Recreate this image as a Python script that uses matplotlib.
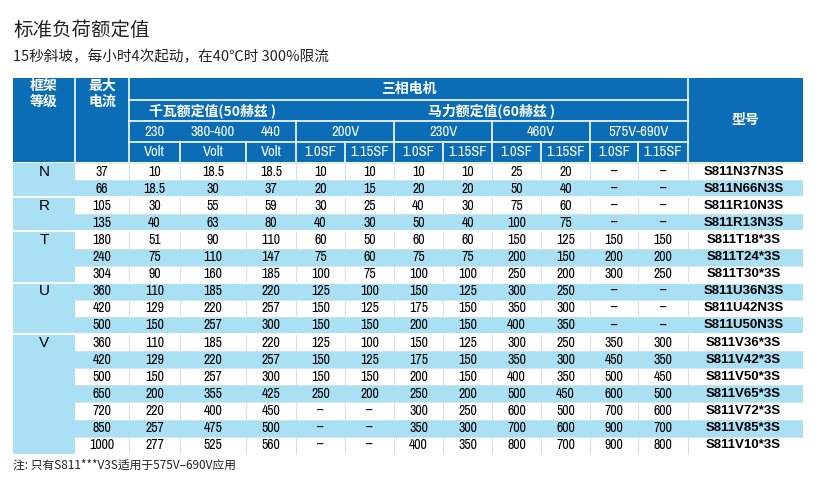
import matplotlib
matplotlib.use("Agg")
import matplotlib.pyplot as plt
from matplotlib.patches import Rectangle
from matplotlib import font_manager as fm

# ---------------- data ----------------
frames = ["N", "R", "T", "U", "V"]
frame_rows = [2, 2, 3, 3, 7]
max_current = ["37", "66", "105", "135", "180", "240", "304", "360", "420", "500",
               "360", "420", "500", "650", "720", "850", "1000"]
kw_230 = ["10", "18.5", "30", "40", "51", "75", "90", "110", "129", "150",
          "110", "129", "150", "200", "220", "257", "277"]
kw_380 = ["18.5", "30", "55", "63", "90", "110", "160", "185", "220", "257",
          "185", "220", "257", "355", "400", "475", "525"]
kw_440 = ["18.5", "37", "59", "80", "110", "147", "185", "220", "257", "300",
          "220", "257", "300", "425", "450", "500", "560"]
hp200_10 = ["10", "20", "30", "40", "60", "75", "100", "125", "150", "150",
            "125", "150", "150", "250", "–", "–", "–"]
hp200_115 = ["10", "15", "25", "30", "50", "60", "75", "100", "125", "150",
             "100", "125", "150", "200", "–", "–", "–"]
hp230_10 = ["10", "20", "40", "50", "60", "75", "100", "150", "175", "200",
            "150", "175", "200", "250", "300", "350", "400"]
hp230_115 = ["10", "20", "30", "40", "60", "75", "100", "125", "150", "150",
             "125", "150", "150", "200", "250", "300", "350"]
hp460_10 = ["25", "50", "75", "100", "150", "200", "250", "300", "350", "400",
            "300", "350", "400", "500", "600", "700", "800"]
hp460_115 = ["20", "40", "60", "75", "125", "150", "200", "250", "300", "350",
             "250", "300", "350", "450", "500", "600", "700"]
hp575_10 = ["–", "–", "–", "–", "150", "200", "300", "–", "–", "–",
            "350", "450", "500", "600", "700", "900", "900"]
hp575_115 = ["–", "–", "–", "–", "150", "200", "250", "–", "–", "–",
             "300", "350", "450", "500", "600", "700", "800"]
models = ["S811N37N3S", "S811N66N3S", "S811R10N3S", "S811R13N3S", "S811T18*3S",
          "S811T24*3S", "S811T30*3S", "S811U36N3S", "S811U42N3S", "S811U50N3S",
          "S811V36*3S", "S811V42*3S", "S811V50*3S", "S811V65*3S", "S811V72*3S",
          "S811V85*3S", "S811V10*3S"]

title = "标准负荷额定值"
subtitle = "15秒斜坡，每小时4次起动，在40℃时 300%限流"
note = "注: 只有S811***V3S适用于575V–690V应用"

# ---------------- fonts ----------------
names = sorted({f.name for f in fm.fontManager.ttflist})
cjk_cands = [n for n in names if "CJK" in n and "SC" in n] + [n for n in names if "CJK" in n]
CJK = cjk_cands[0] if cjk_cands else "DejaVu Sans"
narrow_cands = [n for n in names if "Narrow" in n or "Condensed" in n]
NARROWF = "Liberation Sans Narrow" if "Liberation Sans Narrow" in names else (
    narrow_cands[0] if narrow_cands else "DejaVu Sans")
NARROW = [NARROWF, CJK]
SANS = ["Liberation Sans", CJK]
CJKL = [CJK, "DejaVu Sans"]

DARK = "#0a6db5"
LIGHT = "#a9e0f4"
SEP = "#cfe3ee"

fig = plt.figure(figsize=(8.18, 4.88), dpi=100)
ax = fig.add_axes([0, 0, 1, 1])
ax.set_xlim(0, 818)
ax.set_ylim(488, 0)
ax.axis("off")

def rect(x0, y0, x1, y1, fc):
    ax.add_patch(Rectangle((x0, y0), x1 - x0, y1 - y0, facecolor=fc, edgecolor="none"))

def txt(x, y, s, size=10.5, color="black", weight="normal", family=NARROW, ha="center"):
    ax.text(x, y, s, fontsize=size, color=color, weight=weight, family=family,
            ha=ha, va="center")

ax.text(13, 30, title, fontsize=14, family=CJKL, va="center", ha="left", color="#222")
ax.text(13, 57, subtitle, fontsize=10.5, family=CJKL, va="center", ha="left", color="#222")

cols = [13, 75, 129, 180, 246, 296, 345, 394, 443, 492, 541, 590, 638, 688, 803]
hy = [78, 100, 121, 142, 162]
rect(cols[0], hy[0], cols[-1], hy[-1], DARK)
W = "white"
lw = 1.2
for x in cols[1:3]:
    ax.plot([x, x], [hy[0], hy[-1]], color=W, lw=lw)
ax.plot([cols[-2], cols[-2]], [hy[0], hy[-1]], color=W, lw=lw)
for y in hy[1:4]:
    ax.plot([cols[2], cols[-2]], [y, y], color=W, lw=lw)
ax.plot([cols[5], cols[5]], [hy[2], hy[-1]], color=W, lw=lw)
for x in cols[3:5] + cols[6:13]:
    ax.plot([x, x], [hy[3] if x not in (cols[7], cols[9], cols[11]) else hy[3], hy[-1]],
            color=W, lw=lw)
for x in [cols[7], cols[9], cols[11]]:
    ax.plot([x, x], [hy[2], hy[3]], color=W, lw=lw)

hb = dict(color=W, weight="bold", family=CJKL, size=10)
txt((cols[0] + cols[1]) / 2, 94, "框架\n等级", **hb)
txt((cols[1] + cols[2]) / 2, 94, "最大\n电流", **hb)
txt((cols[2] + cols[-2]) / 2, 89, "三相电机", **hb)
txt((cols[2] + cols[5]) / 2, 111, "千瓦额定值(50赫兹 )", **hb)
txt((cols[5] + cols[-2]) / 2, 111, "马力额定值(60赫兹 )", **hb)
txt((cols[-2] + cols[-1]) / 2, 120, "型号", **hb)
hn = dict(color=W, size=10.5)
for i, lab in enumerate(["230", "380-400", "440"]):
    txt((cols[2 + i] + cols[3 + i]) / 2, 132, lab, **hn)
    txt((cols[2 + i] + cols[3 + i]) / 2, 152, "Volt", **hn)
for i, lab in enumerate(["200V", "230V", "460V", "575V-690V"]):
    a, b = cols[5 + 2 * i], cols[7 + 2 * i]
    txt((a + b) / 2, 132, lab, **hn)
    txt((a + cols[6 + 2 * i]) / 2, 152, "1.0SF", **hn)
    txt((cols[6 + 2 * i] + b) / 2, 152, "1.15SF", **hn)

y0 = 163
rh = 17.1
n = len(models)
body_bottom = y0 + rh * n
rect(cols[0], y0, cols[-1], body_bottom, "white")
rect(cols[0], y0, cols[1], body_bottom, LIGHT)
for i in range(n):
    top = y0 + i * rh
    if i % 2 == 1:
        rect(cols[1], top, cols[-1], top + rh, LIGHT)
    else:
        for x in cols[2:-1]:
            ax.plot([x, x], [top + 1, top + rh - 1], color=SEP, lw=0.8)
    ax.plot([cols[1], cols[-1]], [top, top], color=SEP, lw=0.6)

start = 0
for f, k in zip(frames, frame_rows):
    top = y0 + start * rh
    if start > 0:
        ax.plot([cols[0], cols[-1]], [top, top], color="white", lw=1.5)
    txt((cols[0] + cols[1]) / 2, top + rh / 2, f, size=11, family=SANS)
    start += k

series = [max_current, kw_230, kw_380, kw_440, hp200_10, hp200_115, hp230_10, hp230_115,
          hp460_10, hp460_115, hp575_10, hp575_115]
for j, s in enumerate(series):
    xc = (cols[1 + j] + cols[2 + j]) / 2
    for i, v in enumerate(s):
        txt(xc, y0 + i * rh + rh / 2, v, size=10)
for i, m in enumerate(models):
    txt((cols[-2] + cols[-1]) / 2 - 2, y0 + i * rh + rh / 2, m, size=9.5,
        weight="bold", family=SANS)

ax.text(13, 465, note, fontsize=8.5, family=CJKL, va="center", ha="left", color="#222")

fig.savefig("out.png", dpi=100)
